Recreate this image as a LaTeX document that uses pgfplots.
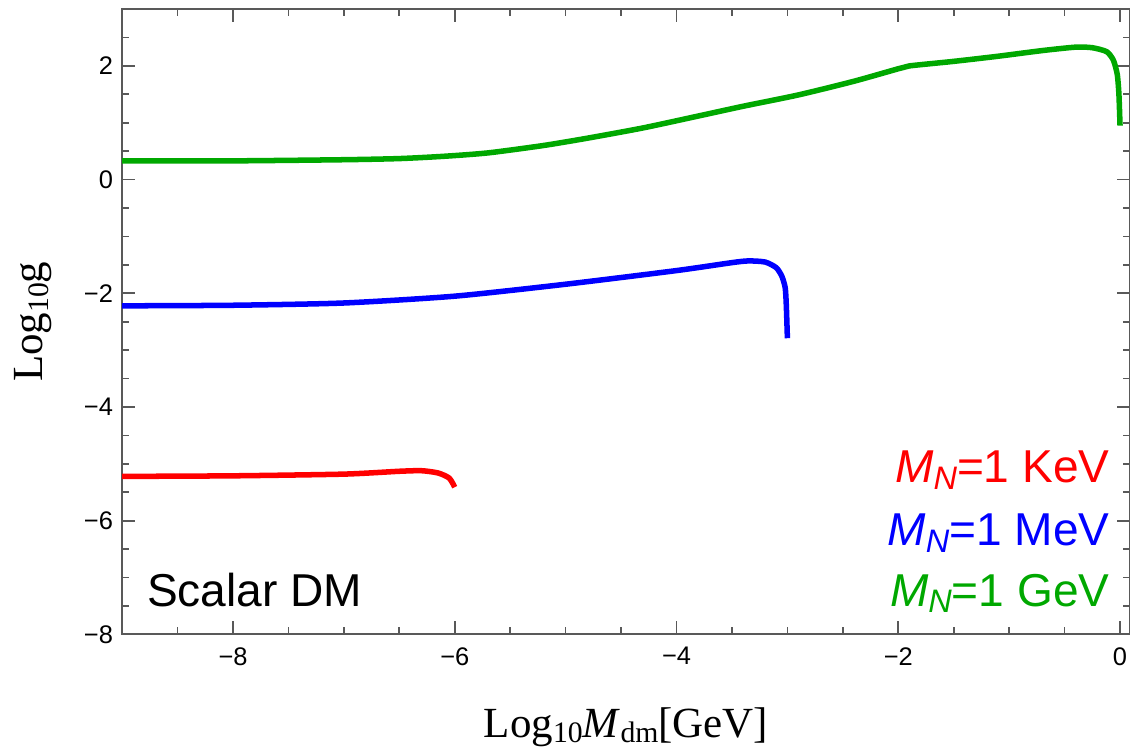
\documentclass[border=0pt]{standalone}
\usepackage{pgfplots}
\pgfplotsset{compat=1.18}
\usepackage{fontspec}
\setmainfont{Liberation Sans}
\newfontfamily\timesfont{Liberation Serif}
\definecolor{mgreen}{rgb}{0,0.66,0}
\definecolor{framegray}{gray}{0.35}
\begin{document}
\begin{tikzpicture}
\begin{axis}[name=ax, scale only axis, width=356.5pt, height=221.2pt,
  xmin=-9, xmax=0.09, ymin=-8, ymax=3,
  xtick={-8,-6,-4,-2,0}, xticklabels={−8,−6,−4,−2,0},
  ytick={-8,-6,-4,-2,0,2}, yticklabels={−8,−6,−4,−2,0,2},
  minor xtick={-8.5,-7.5,-7,-6.5,-5.5,-5,-4.5,-3.5,-3,-2.5,-1.5,-1,-0.5},
  minor ytick={-7.5,-7,-6.5,-5.5,-5,-4.5,-3.5,-3,-2.5,-1.5,-1,-0.5,0.5,1,1.5,2.5},
  tick align=inside, major tick length=4.7pt, minor tick length=2.5pt,
  axis line style={line width=0.7pt, framegray},
  every tick/.style={framegray, line width=0.6pt},
  ticklabel style={font=\fontsize{9}{10.5}\selectfont},
  xticklabel style={yshift=-1pt},
  yticklabel style={xshift=0.3pt},
  xlabel={\timesfont\fontsize{15.2}{18}\selectfont Log\raisebox{-0.3ex}{\fontsize{10.5}{12}\selectfont 10}\textit{M}\raisebox{-0.3ex}{\fontsize{10.5}{12}\selectfont dm}[GeV]},
  ylabel={\timesfont\fontsize{15.2}{18}\selectfont Log\raisebox{-0.3ex}{\fontsize{10.5}{12}\selectfont 10}g},
  every axis x label/.style={at={(rel axis cs:0.5,0)}, anchor=base, yshift=-36.3pt},
  every axis y label/.style={at={(rel axis cs:0,0.5)}, xshift=-31.5pt, rotate=90, anchor=center},
  clip=false,
]
\addplot[mgreen, line width=1.95pt, smooth, tension=0.4] coordinates {
(-9,0.33) (-8,0.33) (-7,0.35) (-6.5,0.37) (-6.1,0.41) (-5.7,0.47) (-5.2,0.6) (-4.8,0.73) (-4.3,0.91) (-3.8,1.12) (-3.4,1.29) (-2.9,1.49) (-2.4,1.73) (-2,1.95) (-1.9,2.0) (-1.5,2.08) (-1.1,2.17) (-0.7,2.27) (-0.4,2.33) (-0.25,2.32) (-0.12,2.25) (-0.06,2.1) (-0.025,1.85) (-0.01,1.5) (0,0.95)};
\addplot[blue, line width=1.95pt, smooth, tension=0.4] coordinates {
(-9,-2.22) (-8,-2.21) (-7,-2.17) (-6,-2.05) (-5,-1.84) (-4,-1.6) (-3.5,-1.46) (-3.35,-1.43) (-3.2,-1.45) (-3.1,-1.55) (-3.05,-1.7) (-3.02,-1.9) (-3.01,-2.2) (-3.0,-2.79)};
\addplot[red, line width=1.95pt, smooth, tension=0.4] coordinates {
(-9,-5.22) (-8,-5.21) (-7,-5.18) (-6.5,-5.13) (-6.3,-5.12) (-6.15,-5.16) (-6.05,-5.25) (-6.0,-5.41)};
\node[anchor=base east, red, font=\fontsize{16.3}{19}\selectfont, inner sep=0pt] at (axis cs:-0.09,-5.33) {\textit{M}\raisebox{-0.15em}{\fontsize{11.5}{13}\selectfont\textit{N}}=1 KeV};
\node[anchor=base east, blue, font=\fontsize{16.3}{19}\selectfont, inner sep=0pt] at (axis cs:-0.09,-6.44) {\textit{M}\raisebox{-0.15em}{\fontsize{11.5}{13}\selectfont\textit{N}}=1 MeV};
\node[anchor=base east, mgreen, font=\fontsize{16.3}{19}\selectfont, inner sep=0pt] at (axis cs:-0.09,-7.5) {\textit{M}\raisebox{-0.15em}{\fontsize{11.5}{13}\selectfont\textit{N}}=1 GeV};
\node[anchor=base west, font=\fontsize{16.3}{19}\selectfont, inner sep=0pt] at (axis cs:-8.78,-7.5) {Scalar DM};
\end{axis}
\pgfresetboundingbox
\path ([xshift=-43.2pt, yshift=-40.4pt]ax.south west) rectangle ([yshift=3.2pt]ax.north east);
\end{tikzpicture}
\end{document}
